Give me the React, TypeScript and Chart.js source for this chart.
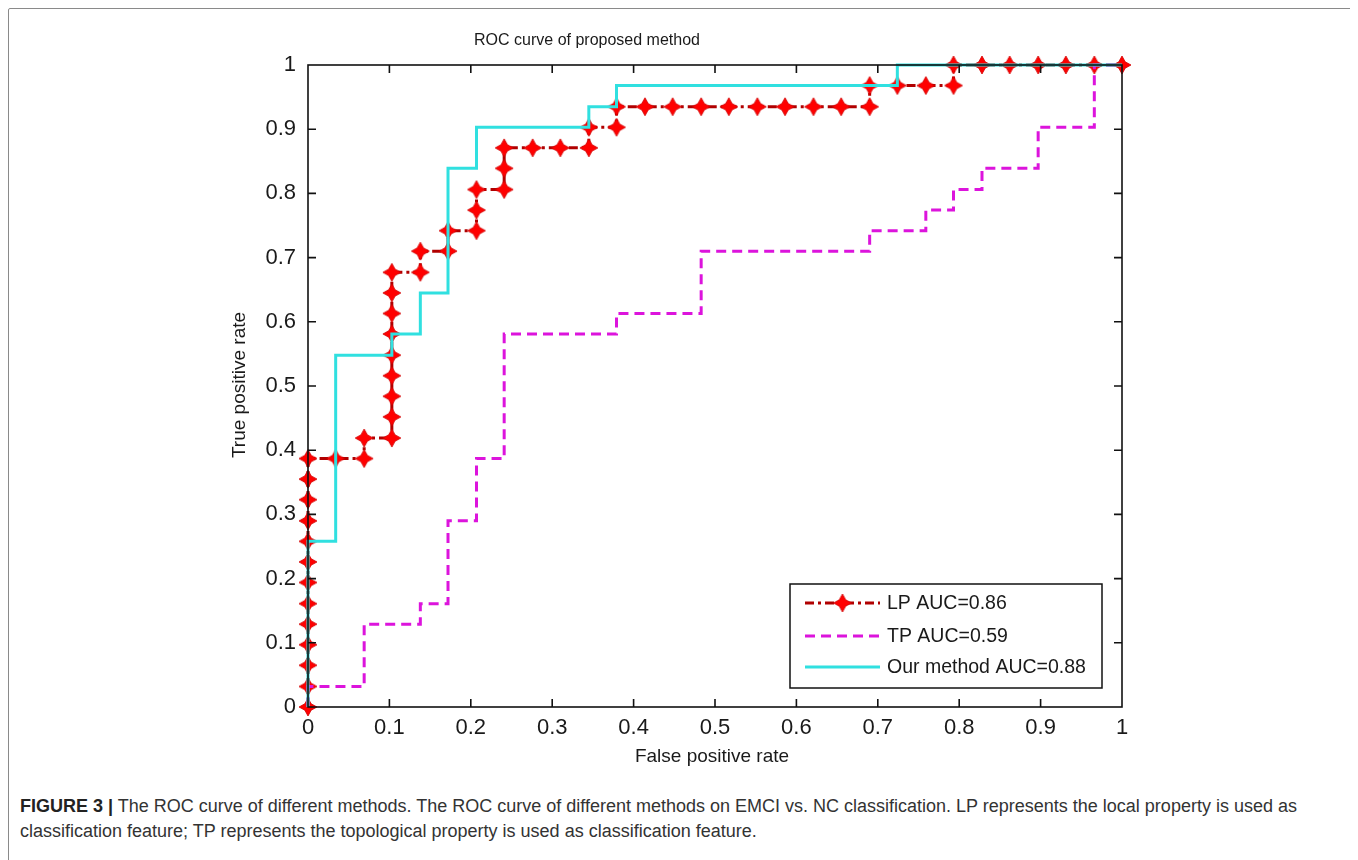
import React, { useEffect, useRef } from "react";
import { Chart, registerables } from "chart.js";

Chart.register(...registerables);

// ---------- data ----------
const lpFPR = [
  0, 0, 0, 0, 0, 0, 0, 0, 0, 0, 0, 0, 0,
  0.034, 0.069, 0.069, 0.103, 0.103, 0.103, 0.103, 0.103, 0.103, 0.103, 0.103, 0.103,
  0.138, 0.138, 0.172, 0.172, 0.207, 0.207, 0.207, 0.241, 0.241, 0.241,
  0.276, 0.31, 0.345, 0.345, 0.379, 0.379,
  0.414, 0.448, 0.483, 0.517, 0.552, 0.586, 0.621, 0.655, 0.69,
  0.69, 0.724, 0.759, 0.793, 0.793, 0.828, 0.862, 0.897, 0.931, 0.966, 1,
];
const lpTPR = [
  0, 0.032, 0.065, 0.097, 0.129, 0.161, 0.194, 0.226, 0.258, 0.29, 0.323, 0.355, 0.387,
  0.387, 0.387, 0.419, 0.419, 0.452, 0.484, 0.516, 0.548, 0.581, 0.613, 0.645, 0.677,
  0.677, 0.71, 0.71, 0.742, 0.742, 0.774, 0.806, 0.806, 0.839, 0.871,
  0.871, 0.871, 0.871, 0.903, 0.903, 0.935,
  0.935, 0.935, 0.935, 0.935, 0.935, 0.935, 0.935, 0.935, 0.935,
  0.968, 0.968, 0.968, 0.968, 1, 1, 1, 1, 1, 1, 1,
];

const tpFPR = [
  0, 0, 0.069, 0.069, 0.138, 0.138, 0.172, 0.172, 0.207, 0.207, 0.241, 0.241,
  0.379, 0.379, 0.483, 0.483, 0.69, 0.69, 0.759, 0.759, 0.793, 0.793, 0.828, 0.828,
  0.897, 0.897, 0.966, 0.966, 1,
];
const tpTPR = [
  0, 0.032, 0.032, 0.129, 0.129, 0.161, 0.161, 0.29, 0.29, 0.387, 0.387, 0.581,
  0.581, 0.613, 0.613, 0.71, 0.71, 0.742, 0.742, 0.774, 0.774, 0.806, 0.806, 0.839,
  0.839, 0.903, 0.903, 1, 1,
];

const ourFPR = [
  0, 0, 0.034, 0.034, 0.103, 0.103, 0.138, 0.138, 0.172, 0.172, 0.207, 0.207,
  0.345, 0.345, 0.379, 0.379, 0.724, 0.724, 1,
];
const ourTPR = [
  0, 0.258, 0.258, 0.548, 0.548, 0.581, 0.581, 0.645, 0.645, 0.839, 0.839, 0.903,
  0.903, 0.935, 0.935, 0.968, 0.968, 1, 1,
];

const xTickValues = [0, 0.1, 0.2, 0.3, 0.4, 0.5, 0.6, 0.7, 0.8, 0.9, 1];
const xTickLabels = ["0", "0.1", "0.2", "0.3", "0.4", "0.5", "0.6", "0.7", "0.8", "0.9", "1"];
const yTickValues = [0, 0.1, 0.2, 0.3, 0.4, 0.5, 0.6, 0.7, 0.8, 0.9, 1];
const yTickLabels = ["0", "0.1", "0.2", "0.3", "0.4", "0.5", "0.6", "0.7", "0.8", "0.9", "1"];

const seriesNames = ["LP AUC=0.86", "TP AUC=0.59", "Our method AUC=0.88"];
const chartTitle = "ROC curve of proposed method";
const xAxisTitle = "False positive rate";
const yAxisTitle = "True positive rate";

const captionBold = "FIGURE 3 |";
const captionLine1 =
  " The ROC curve of different methods. The ROC curve of different methods on EMCI vs. NC classification. LP represents the local property is used as";
const captionLine2 =
  "classification feature; TP represents the topological property is used as classification feature.";

// ---------- styles ----------
const LP_LINE = "#b00000";
const LP_MARK = "#ff0000";
const TP_COLOR = "#dc14dc";
const OUR_COLOR = "#30e0e0";
const LP_DASH = [9, 4, 3, 4];
const TP_DASH = [10, 6];
const FONT = "Arial, 'Liberation Sans', Helvetica, sans-serif";

function makeStar(): HTMLCanvasElement {
  const s = 20;
  const c = document.createElement("canvas");
  c.width = s;
  c.height = s;
  const g = c.getContext("2d")!;
  const m = s / 2;
  const r = 9;
  const k = 3.2;
  g.beginPath();
  g.moveTo(m, m - r);
  g.lineTo(m + k, m - k);
  g.lineTo(m + r, m);
  g.lineTo(m + k, m + k);
  g.lineTo(m, m + r);
  g.lineTo(m - k, m + k);
  g.lineTo(m - r, m);
  g.lineTo(m - k, m - k);
  g.closePath();
  g.fillStyle = LP_MARK;
  g.fill();
  g.strokeStyle = "#d00000";
  g.lineWidth = 0.8;
  g.stroke();
  return c;
}

function toPoints(xs: number[], ys: number[]) {
  return xs.map((x, i) => ({ x, y: ys[i] }));
}

export default function App() {
  const canvasRef = useRef<HTMLCanvasElement | null>(null);

  useEffect(() => {
    document.body.style.overflow = "hidden";
    const canvas = canvasRef.current;
    if (!canvas) return;
    const star = makeStar();

    const framePlugin = {
      id: "matlabFrame",
      afterDatasetsDraw(chart: any) {
        const { ctx, chartArea: a, scales } = chart;
        const xs = scales.x;
        const ys = scales.y;
        ctx.save();
        ctx.strokeStyle = "#111";
        ctx.lineWidth = 1.6;
        ctx.setLineDash([]);
        ctx.strokeRect(a.left, a.top, a.right - a.left, a.bottom - a.top);
        const tl = 8;
        ctx.beginPath();
        xTickValues.forEach((v) => {
          if (v <= 0 || v >= 1) return;
          const px = xs.getPixelForValue(v);
          ctx.moveTo(px, a.bottom);
          ctx.lineTo(px, a.bottom - tl);
          ctx.moveTo(px, a.top);
          ctx.lineTo(px, a.top + tl);
        });
        yTickValues.forEach((v) => {
          if (v <= 0 || v >= 1) return;
          const py = ys.getPixelForValue(v);
          ctx.moveTo(a.left, py);
          ctx.lineTo(a.left + tl, py);
          ctx.moveTo(a.right, py);
          ctx.lineTo(a.right - tl, py);
        });
        ctx.stroke();
        ctx.restore();
      },
      afterDraw(chart: any) {
        const { ctx } = chart;
        ctx.save();
        ctx.fillStyle = "#1a1a1a";
        // title
        ctx.font = `16px ${FONT}`;
        ctx.textAlign = "center";
        ctx.textBaseline = "middle";
        ctx.fillText(chartTitle, 578, 32);
        // x title
        ctx.font = `19px ${FONT}`;
        ctx.fillText(xAxisTitle, 703, 748);
        // y title
        ctx.save();
        ctx.translate(231, 376);
        ctx.rotate(-Math.PI / 2);
        ctx.fillText(yAxisTitle, 0, 0);
        ctx.restore();

        // legend
        const bx = 781, by = 575, bw = 312, bh = 104;
        ctx.fillStyle = "#fff";
        ctx.fillRect(bx, by, bw, bh);
        ctx.strokeStyle = "#111";
        ctx.lineWidth = 1.5;
        ctx.strokeRect(bx, by, bw, bh);
        const rows = [594, 627, 658];
        const lx0 = 796, lx1 = 871, tx = 878;
        // LP
        ctx.lineWidth = 3;
        ctx.strokeStyle = LP_LINE;
        ctx.setLineDash(LP_DASH);
        ctx.beginPath();
        ctx.moveTo(lx0, rows[0]);
        ctx.lineTo(lx1, rows[0]);
        ctx.stroke();
        ctx.drawImage(star, (lx0 + lx1) / 2 - star.width / 2, rows[0] - star.height / 2);
        // TP
        ctx.strokeStyle = TP_COLOR;
        ctx.setLineDash(TP_DASH);
        ctx.beginPath();
        ctx.moveTo(lx0, rows[1]);
        ctx.lineTo(lx1, rows[1]);
        ctx.stroke();
        // Ours
        ctx.strokeStyle = OUR_COLOR;
        ctx.setLineDash([]);
        ctx.beginPath();
        ctx.moveTo(lx0, rows[2]);
        ctx.lineTo(lx1, rows[2]);
        ctx.stroke();
        ctx.fillStyle = "#1a1a1a";
        ctx.font = `19.5px ${FONT}`;
        ctx.textAlign = "left";
        ctx.textBaseline = "middle";
        seriesNames.forEach((n, i) => ctx.fillText(n, tx, rows[i] + 1));
        ctx.restore();
      },
    };

    const chart = new Chart(canvas, {
      type: "scatter",
      data: {
        datasets: [
          {
            label: seriesNames[2],
            data: toPoints(ourFPR, ourTPR),
            showLine: true,
            borderColor: OUR_COLOR,
            borderWidth: 3,
            pointRadius: 0,
            pointHoverRadius: 0,
            clip: false,
            order: 0,
          },
          {
            label: seriesNames[1],
            data: toPoints(tpFPR, tpTPR),
            showLine: true,
            borderColor: TP_COLOR,
            borderWidth: 3,
            borderDash: TP_DASH,
            pointRadius: 0,
            pointHoverRadius: 0,
            clip: false,
            order: 1,
          },
          {
            label: seriesNames[0],
            data: toPoints(lpFPR, lpTPR),
            showLine: true,
            borderColor: LP_LINE,
            borderWidth: 3,
            borderDash: LP_DASH,
            pointStyle: star,
            pointRadius: 9,
            pointHoverRadius: 9,
            clip: false,
            order: 2,
          },
        ],
      } as any,
      options: {
        animation: false,
        responsive: false,
        devicePixelRatio: 1,
        events: [],
        layout: { padding: { left: 239, right: 231, top: 56, bottom: 32 } },
        plugins: {
          legend: { display: false },
          tooltip: { enabled: false },
          title: { display: false },
        },
        scales: {
          x: {
            type: "linear",
            min: 0,
            max: 1,
            border: { display: false },
            grid: { display: false, drawTicks: false },
            afterBuildTicks: (s: any) => {
              s.ticks = xTickValues.map((v) => ({ value: v }));
            },
            afterFit: (s: any) => {
              s.height = 40;
            },
            ticks: {
              padding: 8,
              maxRotation: 0,
              autoSkip: false,
              color: "#1a1a1a",
              font: { family: FONT, size: 22 },
              callback: (v: any) => xTickLabels[xTickValues.indexOf(Number(v))] ?? "",
            },
          },
          y: {
            type: "linear",
            min: 0,
            max: 1,
            border: { display: false },
            grid: { display: false, drawTicks: false },
            afterBuildTicks: (s: any) => {
              s.ticks = yTickValues.map((v) => ({ value: v }));
            },
            afterFit: (s: any) => {
              s.width = 60;
            },
            ticks: {
              padding: 12,
              autoSkip: false,
              color: "#1a1a1a",
              font: { family: FONT, size: 22 },
              callback: (v: any) => yTickLabels[yTickValues.indexOf(Number(v))] ?? "",
            },
          },
        },
      } as any,
      plugins: [framePlugin],
    });

    return () => {
      chart.destroy();
    };
  }, []);

  return (
    <div
      style={{
        position: "relative",
        width: 1344,
        height: 880,
        border: "1px solid #8a8a8a",
        borderRadius: 2,
        boxSizing: "content-box",
        background: "#fff",
      }}
    >
      <canvas ref={canvasRef} width={1344} height={770} style={{ display: "block" }} />
      <div
        style={{
          position: "absolute",
          left: 11,
          top: 785,
          width: 1320,
          fontFamily: FONT,
          fontSize: 18,
          lineHeight: "25px",
          color: "#333",
          whiteSpace: "nowrap",
        }}
      >
        <b style={{ color: "#222" }}>{captionBold}</b>
        {captionLine1}
        <br />
        {captionLine2}
      </div>
    </div>
  );
}
